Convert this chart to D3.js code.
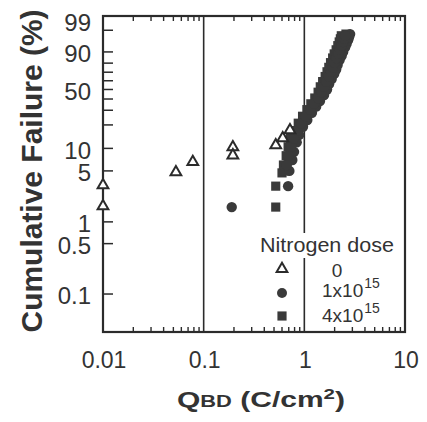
<!DOCTYPE html>
<html>
<head>
<meta charset="utf-8">
<script src="https://cdn.jsdelivr.net/npm/d3@7"></script>
<style>
  body { margin: 0; background: #fff; }
  svg { display: block; font-family: "Liberation Sans", Arial, Helvetica, sans-serif; }
</style>
</head>
<body>
<svg id="chart" width="427" height="422"></svg>
<script>
// Tick values
var xTicks = [0.01, 0.1, 1, 10];
var xTickLabels = ["0.01", "0.1", "1", "10"];
var yTicks = [99, 90, 80, 70, 60, 50, 40, 30, 20, 10, 5, 1, 0.5, 0.1];
var yTickLabels = ["99", "90", "50", "10", "5", "1", "0.5", "0.1"];

// Nitrogen dose 0 (open triangles)
var triQ = [0.01, 0.01, 0.053, 0.078, 0.195, 0.195, 0.52, 0.61, 0.72];
var triF = [3.2, 1.65, 4.8, 6.6, 10.4, 8.1, 11.0, 13.6, 17.2];

// Nitrogen dose 1x10^15 (filled circles)
var cirQ = [0.19, 0.69,
            0.71, 0.76, 0.79, 0.84, 0.89, 0.97, 1.07, 1.19, 1.31, 1.43, 1.57, 1.68, 1.76,
            1.87, 1.98, 2.07, 2.14, 2.24, 2.35, 2.43, 2.54, 2.63, 2.72, 2.78, 2.85,
            0.67, 0.70, 0.74, 0.79, 0.85, 0.93, 1.03, 1.14, 1.25, 1.37, 1.48, 1.57,
            1.65, 1.75, 1.84, 1.91, 1.99, 2.08, 2.17, 2.26, 2.35, 2.43, 2.50, 2.56];
var cirF = [1.6, 3.1,
            5, 7, 9, 12, 15, 19, 23, 28, 33, 38, 44, 50, 56,
            62, 68, 73, 78, 83, 87, 90, 93, 95, 96.5, 97.5, 98.3,
            6, 8, 10.5, 13.5, 17, 21, 25.5, 30.5, 35.5, 41, 47, 53,
            59, 65, 70.5, 75.5, 80.5, 85, 88.5, 91.5, 94, 95.8, 97, 97.9];

// Nitrogen dose 4x10^15 (filled squares)
var sqQ = [0.52, 0.52,
           0.60, 0.62, 0.66, 0.69, 0.73, 0.79, 0.87, 0.96, 1.06, 1.16, 1.27, 1.37, 1.44,
           1.52, 1.61, 1.68, 1.75, 1.82, 1.91, 1.98, 2.07, 2.15, 2.22, 2.28, 2.33,
           0.64, 0.69, 0.72, 0.76, 0.81, 0.88, 0.97, 1.09, 1.19, 1.30, 1.43, 1.53,
           1.60, 1.70, 1.80, 1.88, 1.95, 2.04, 2.13, 2.21, 2.31, 2.39, 2.47, 2.53, 2.59];
var sqF = [1.6, 3.1,
           4.7, 6, 8, 10.5, 13.5, 17, 21, 25.5, 30.5, 35.5, 41, 47, 53,
           59, 65, 70.5, 75.5, 80.5, 85, 88.5, 91.5, 94, 95.8, 97, 97.9,
           5, 7, 9, 12, 15, 19, 23, 28, 33, 38, 44, 50,
           56, 62, 68, 73, 78, 83, 87, 90, 93, 95, 96.5, 97.5, 98.3];

var legendTitle = "Nitrogen dose";
var legendLabels = [["0", ""], ["1x10", "15"], ["4x10", "15"]];

var ink = "#2b2b2b";
var markFill = "#3a3a3a";

// Plot box
var margin = { top: 16, right: 22, bottom: 90, left: 103 },
    width = 427 - margin.left - margin.right,
    height = 422 - margin.top - margin.bottom;

var svg = d3.select("#chart");
svg.append("rect").attr("width", 427).attr("height", 422).attr("fill", "#fff");

var g = svg.append("g")
    .attr("transform", "translate(" + margin.left + "," + margin.top + ")");

// Weibull probability transform
function weib(p) { return Math.log(-Math.log(1 - p / 100)); }

var x = d3.scaleLog()
    .domain([0.01, 10])
    .range([0, width]);

var y = d3.scaleLinear()
    .domain([weib(0.0297), weib(99.93)])
    .range([height, 0]);

function py(p) { return y(weib(p)); }

// Gridlines at decades
g.selectAll(".grid")
    .data([0.1, 1])
    .enter().append("line")
    .attr("x1", d => x(d)).attr("x2", d => x(d))
    .attr("y1", 0).attr("y2", height)
    .attr("stroke", ink).attr("stroke-width", 1.6);

// Minor log ticks on bottom and top
var minor = [];
[0.01, 0.1, 1].forEach(function(dec) {
    for (var k = 2; k <= 9; k++) minor.push(dec * k);
});
g.selectAll(".xminb")
    .data(minor)
    .enter().append("line")
    .attr("x1", d => x(d)).attr("x2", d => x(d))
    .attr("y1", height).attr("y2", height - 5)
    .attr("stroke", ink).attr("stroke-width", 1.4);
g.selectAll(".xmint")
    .data(minor)
    .enter().append("line")
    .attr("x1", d => x(d)).attr("x2", d => x(d))
    .attr("y1", 0).attr("y2", 5)
    .attr("stroke", ink).attr("stroke-width", 1.4);

// Y ticks (inward)
g.selectAll(".ytick")
    .data(yTicks)
    .enter().append("line")
    .attr("x1", 0).attr("x2", 10)
    .attr("y1", d => py(d)).attr("y2", d => py(d))
    .attr("stroke", ink).attr("stroke-width", 1.5);

// Frame
g.append("rect")
    .attr("width", width).attr("height", height)
    .attr("fill", "none")
    .attr("stroke", ink).attr("stroke-width", 2.2);

// Tick labels
g.selectAll(".xlab")
    .data(xTicks)
    .enter().append("text")
    .attr("x", d => x(d) + 1)
    .attr("y", height + 36)
    .attr("text-anchor", "middle")
    .attr("font-size", 23)
    .attr("fill", "#333")
    .text((d, i) => xTickLabels[i]);

g.selectAll(".ylab")
    .data(yTickLabels)
    .enter().append("text")
    .attr("x", -12)
    .attr("y", d => py(+d) + (d === "99" ? -8 : 2))
    .attr("dy", "0.35em")
    .attr("text-anchor", "end")
    .attr("font-size", 24)
    .attr("fill", "#333")
    .text(d => d);

// Axis titles
svg.append("text")
    .attr("transform", "translate(42,171) rotate(-90)")
    .attr("text-anchor", "middle")
    .attr("font-size", 29)
    .attr("font-weight", "bold")
    .attr("fill", "#333")
    .attr("textLength", 323)
    .attr("lengthAdjust", "spacingAndGlyphs")
    .text("Cumulative Failure (%)");

var xt = svg.append("text")
    .attr("x", 177).attr("y", 407)
    .attr("font-weight", "bold")
    .attr("fill", "#333")
    .attr("font-size", 22)
    .attr("textLength", 168)
    .attr("lengthAdjust", "spacingAndGlyphs");
xt.append("tspan").text("Q");
xt.append("tspan").attr("font-size", 16).text("BD");
xt.append("tspan").text(" (C/cm");
xt.append("tspan").attr("font-size", 15).attr("dy", -8).text("2");
xt.append("tspan").attr("dy", 8).text(")");

// Marker shapes
var triSym = d3.symbol().type(d3.symbolTriangle).size(50);
var sqSym = d3.symbol().type(d3.symbolSquare).size(84);

// Squares
g.selectAll(".sq")
    .data(sqQ)
    .enter().append("path")
    .attr("d", sqSym)
    .attr("transform", (d, i) => "translate(" + x(d) + "," + py(sqF[i]) + ")")
    .attr("fill", markFill);

// Circles
g.selectAll(".cir")
    .data(cirQ)
    .enter().append("circle")
    .attr("cx", d => x(d))
    .attr("cy", (d, i) => py(cirF[i]))
    .attr("r", 5.2)
    .attr("fill", markFill);

// Triangles
g.selectAll(".tri")
    .data(triQ)
    .enter().append("path")
    .attr("d", triSym)
    .attr("transform", (d, i) => "translate(" + x(d) + "," + py(triF[i]) + ")")
    .attr("fill", "#fff")
    .attr("stroke", ink)
    .attr("stroke-width", 2);

// Legend
var lg = svg.append("g");
lg.append("rect")
    .attr("x", 258).attr("y", 233).attr("width", 140).attr("height", 25)
    .attr("fill", "#fff");
lg.append("text")
    .attr("x", 260).attr("y", 252)
    .attr("font-size", 20)
    .attr("fill", "#333")
    .attr("textLength", 134)
    .attr("lengthAdjust", "spacingAndGlyphs")
    .text(legendTitle);

var ly = [269, 293, 316];
lg.append("path").attr("d", triSym)
    .attr("transform", "translate(282," + ly[0] + ")")
    .attr("fill", "#fff").attr("stroke", ink).attr("stroke-width", 2);
lg.append("circle").attr("cx", 282).attr("cy", ly[1]).attr("r", 5).attr("fill", markFill);
lg.append("path").attr("d", sqSym)
    .attr("transform", "translate(282," + ly[2] + ")").attr("fill", markFill);

legendLabels.forEach(function(l, i) {
    var t = lg.append("text")
        .attr("x", i === 0 ? 337 : 322)
        .attr("y", ly[i] + (i === 0 ? 8 : 4) + (i === 2 ? 2 : 0))
        .attr("text-anchor", i === 0 ? "middle" : "start")
        .attr("font-size", 19)
        .attr("fill", "#333");
    t.append("tspan").text(l[0]);
    if (l[1]) t.append("tspan").attr("font-size", 14).attr("dy", -9).attr("dx", 1).text(l[1]);
});
</script>
</body>
</html>
